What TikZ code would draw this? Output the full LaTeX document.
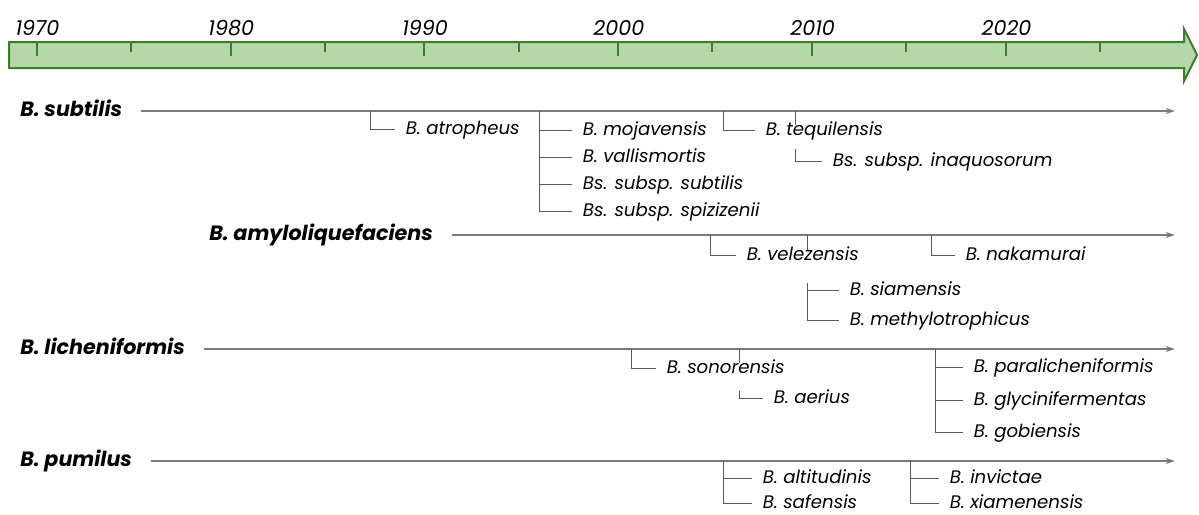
\documentclass[tikz,border=0pt]{standalone}
\usepackage{fontspec}
\setmainfont{Poppins}
\usetikzlibrary{arrows.meta}

\definecolor{barfill}{HTML}{B6D7A8}
\definecolor{bardraw}{HTML}{3C7F2A}
\definecolor{linegray}{HTML}{7A7A7A}
\definecolor{branchgray}{HTML}{5A5A5A}

\begin{document}
\begin{tikzpicture}[x=0.75pt, y=-0.75pt,
        yr/.style={font=\itshape\fontsize{15.5}{17}\selectfont, anchor=base, inner sep=0pt},
        yeartick/.style={bardraw, line width=1.5pt},
        taxon/.style={font=\itshape\fontsize{13.6}{15}\selectfont, anchor=west, inner xsep=8pt, inner ysep=0pt, text height=1.4ex, text depth=0pt},
        main/.style={font=\bfseries\itshape\fontsize{15.5}{17}\selectfont, anchor=west, inner sep=0pt, text height=1.4ex, text depth=0pt},
        lineage/.style={-{Stealth[length=7pt,width=4.5pt]}, linegray, line width=1pt, shorten <=14pt},
        branch/.style={branchgray, line width=0.7pt}
    ]
        \useasboundingbox (0,0) rectangle (1199,514);

        % Time axis
        \draw[bardraw, fill=barfill, line width=1.5pt] (9,42) -- (1184,42) -- (1184,29) -- (1197,55) -- (1184,81) -- (1184,68) -- (9,68) -- cycle;
        \foreach \yr [count=\i from 0] in {1970,1980,...,2020} {
            \draw[yeartick] ({36.7+193.8*\i},42) -- ++(0,14);
            \node[yr] (y\yr) at ({37.5+193.8*\i},35) {\yr};
        }
        \foreach \i in {0,...,5}
            \draw[yeartick] ({131+193.8*\i},42) -- ++(0,10);

        % B. subtilis
        \node[main] (sub) at (20,111) {B. subtilis};
        \coordinate (subEnd) at (1175,111);
        \draw[lineage] (sub.east) -- (subEnd);

        \coordinate (atrB) at (370,111);
        \node[taxon] (atr) at (395,129) {B. atropheus};
        \draw[branch] (atrB) |- (atr.west);

        \coordinate (grpA) at (539,111);
        \node[taxon] (moj) at (572,130) {B. mojavensis};
        \node[taxon] (val) at (572,157) {B. vallismortis};
        \node[taxon] (sbs) at (572,184) {Bs. subsp. subtilis};
        \node[taxon] (spi) at (572,211) {Bs. subsp. spizizenii};
        \draw[branch] (grpA) |- (spi.west);
        \foreach \n in {moj,val,sbs}
            \draw[branch] (\n.west -| grpA) -- (\n.west);

        \coordinate (teqB) at (723,111);
        \node[taxon] (teq) at (755,130) {B. tequilensis};
        \draw[branch] (teqB) |- (teq.west);

        \coordinate (inaB) at (795,111);
        \node[taxon] (ina) at (822,161) {Bs. subsp. inaquosorum};
        \draw[branch] (inaB) -- (teq.north -| inaB);
        \draw[branch] (ina.north -| inaB) ++(0,-7) |- (ina.west);

        % B. amyloliquefaciens
        \node[main] (amy) at (209,235) {B. amyloliquefaciens};
        \coordinate (amyEnd) at (1175,235);
        \draw[lineage] (amy.east) -- (amyEnd);

        \coordinate (velB) at (710,235);
        \node[taxon] (vel) at (736,255) {B. velezensis};
        \draw[branch] (velB) |- (vel.west);

        \coordinate (siaB) at (807,235);
        \node[taxon] (sia) at (839,290) {B. siamensis};
        \node[taxon] (met) at (839,320) {B. methylotrophicus};
        \draw[branch] (siaB) -- (vel.north -| siaB);
        \draw[branch] (sia.north -| siaB) ++(0,-2) |- (met.west);
        \draw[branch] (sia.west -| siaB) -- (sia.west);

        \coordinate (nakB) at (931,235);
        \node[taxon] (nak) at (955,255) {B. nakamurai};
        \draw[branch] (nakB) |- (nak.west);

        % B. licheniformis
        \node[main] (lic) at (20,349) {B. licheniformis};
        \coordinate (licEnd) at (1175,349);
        \draw[lineage] (lic.east) -- (licEnd);

        \coordinate (sonB) at (631,349);
        \node[taxon] (son) at (656,368) {B. sonorensis};
        \draw[branch] (sonB) |- (son.west);

        \coordinate (aerB) at (739,349);
        \node[taxon] (aer) at (763,398) {B. aerius};
        \draw[branch] (aerB) -- (son.north -| aerB);
        \draw[branch] (aer.north -| aerB) ++(0,-2) |- (aer.west);

        \coordinate (grpL) at (935,349);
        \node[taxon] (par) at (963,367) {B. paralicheniformis};
        \node[taxon] (gly) at (963,400) {B. glycinifermentas};
        \node[taxon] (gob) at (963,432) {B. gobiensis};
        \draw[branch] (grpL) |- (gob.west);
        \foreach \n in {par,gly}
            \draw[branch] (\n.west -| grpL) -- (\n.west);

        % B. pumilus
        \node[main] (pum) at (20,461) {B. pumilus};
        \coordinate (pumEnd) at (1175,461);
        \draw[lineage] (pum.east) -- (pumEnd);

        \coordinate (grpP) at (723,461);
        \node[taxon] (alt) at (752,478) {B. altitudinis};
        \node[taxon] (saf) at (752,503) {B. safensis};
        \draw[branch] (grpP) |- (saf.west);
        \draw[branch] (alt.west -| grpP) -- (alt.west);

        \coordinate (grpX) at (910,461);
        \node[taxon] (inv) at (939,478) {B. invictae};
        \node[taxon] (xia) at (939,503) {B. xiamenensis};
        \draw[branch] (grpX) |- (xia.west);
        \draw[branch] (inv.west -| grpX) -- (inv.west);

    \end{tikzpicture}
\end{document}
